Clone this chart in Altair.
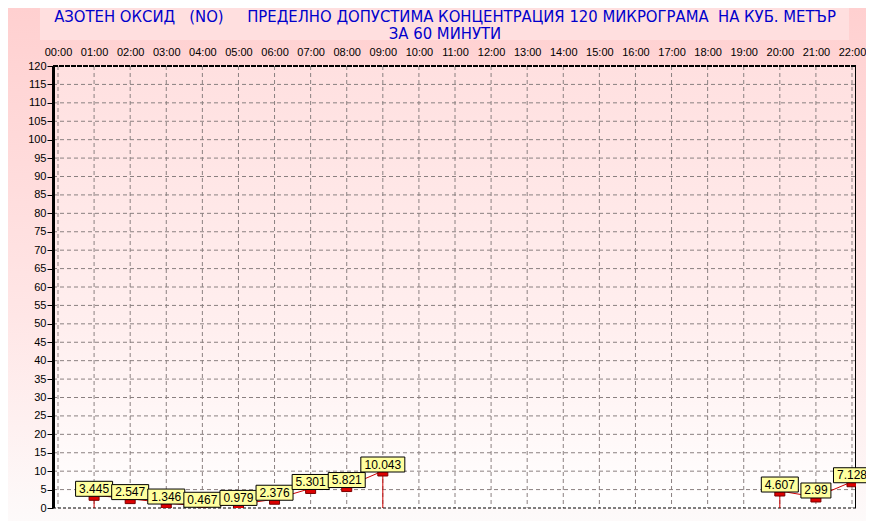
import altair as alt
import pandas as pd

# ---- data ----
hours = [1, 2, 3, 4, 5, 6, 7, 8, 9, 20, 21, 22]
values = [3.445, 2.547, 1.346, 0.467, 0.979, 2.376, 5.301, 5.821, 10.043, 4.607, 2.99, 7.128]
labels = ["3.445", "2.547", "1.346", "0.467", "0.979", "2.376", "5.301", "5.821", "10.043", "4.607", "2.99", "7.128"]
segments = [1, 1, 1, 1, 1, 1, 1, 1, 1, 2, 2, 2]
stem = [1, 0, 0, 0, 0, 0, 0, 0, 1, 1, 0, 0]
x_ticks = list(range(0, 23))
y_ticks = list(range(0, 121, 5))
y_grid = list(range(5, 120, 5))

title1 = "АЗОТЕН ОКСИД\u00a0\u00a0 (NO)\u00a0\u00a0\u00a0\u00a0 ПРЕДЕЛНО ДОПУСТИМА КОНЦЕНТРАЦИЯ 120 МИКРОГРАМА\u00a0 НА КУБ. МЕТЪР"
title2 = "ЗА 60 МИНУТИ"

W, H = 803, 442
SP = 36.09
D0, D1 = -5 / SP, 22 + 4 / SP
PXH = W / (D1 - D0)
PXV = H / 120.0

df = pd.DataFrame({"h": hours, "v": values, "lab": labels, "seg": segments, "stem": stem})
xg = pd.DataFrame({"h": x_ticks})
yg = pd.DataFrame({"v": y_grid})
yt = pd.DataFrame({"v": y_ticks})
one = pd.DataFrame({"a": [0]})

FONT = "Liberation Sans"
TFONT = "DejaVu Sans Condensed, Liberation Sans"
xscale = alt.Scale(domain=[D0, D1], nice=False, zero=False)
yscale = alt.Scale(domain=[0, 120], nice=False, zero=False)
xaxis = alt.Axis(orient="top", values=x_ticks, title=None, grid=False, domain=False, ticks=False,
                 labelExpr="(datum.value < 10 ? '0' : '') + datum.value + ':00'",
                 labelPadding=9, labelFont=FONT, labelFontSize=11, labelColor="black", zindex=1)
yaxis = alt.Axis(values=y_ticks, title=None, grid=False, domain=False, ticks=True, tickSize=6,
                 tickColor="black", labelPadding=1, labelFont=FONT, labelFontSize=11,
                 labelColor="black", zindex=1)
X = alt.X("h:Q", scale=xscale, axis=xaxis)
Y = alt.Y("v:Q", scale=yscale, axis=yaxis)

bg = alt.Chart(one).mark_rect(
    color=alt.LinearGradient(gradient="linear", x1=0, x2=0, y1=0, y2=1,
                             stops=[alt.GradientStop(color="#ffd0d0", offset=0),
                                    alt.GradientStop(color="#ffe6e6", offset=0.6),
                                    alt.GradientStop(color="#fdfafa", offset=1)])
).encode(x=alt.value(-45), x2=alt.value(W + 10), y=alt.value(-58), y2=alt.value(H + 13))

titlebox = alt.Chart(one).mark_rect(color="#ffdfdf").encode(
    x=alt.value(-13), x2=alt.value(796), y=alt.value(-62), y2=alt.value(-26))

plotbg = alt.Chart(one).mark_rect(
    color=alt.LinearGradient(gradient="linear", x1=0, x2=0, y1=0, y2=1,
                             stops=[alt.GradientStop(color="#ffe0e0", offset=0),
                                    alt.GradientStop(color="#ffefef", offset=0.6),
                                    alt.GradientStop(color="#ffffff", offset=1)])
).encode(x=alt.value(0), x2=alt.value(W), y=alt.value(0), y2=alt.value(H))

t1 = alt.Chart(one).mark_text(text=title1, font=TFONT, fontSize=16.5, color="#0000cc",
                              align="center", baseline="alphabetic").encode(
    x=alt.value(392), y=alt.value(-44))
t2 = alt.Chart(one).mark_text(text=title2, font=TFONT, fontSize=16.5, color="#0000cc",
                              align="center", baseline="alphabetic").encode(
    x=alt.value(392), y=alt.value(-27))

vgrid = alt.Chart(xg).mark_rule(color="#8a8080", strokeDash=[4, 3], strokeWidth=1).encode(
    x=X, y=alt.value(0), y2=alt.value(H))
hgrid = alt.Chart(yg).mark_rule(color="#8a8080", strokeDash=[4, 3], strokeWidth=1).encode(
    y=Y, x=alt.value(0), x2=alt.value(W))

# axis ticks / labels carrier
yaxis_layer = alt.Chart(yt).mark_rule(opacity=0).encode(x=alt.value(0), x2=alt.value(1), y=Y)

top_border = alt.Chart(one).mark_rule(color="black", strokeWidth=2, strokeDash=[5, 1]).encode(
    x=alt.value(0), x2=alt.value(W), y=alt.value(0))
bottom_border = alt.Chart(one).mark_rule(color="black", strokeWidth=1, strokeDash=[3, 2]).encode(
    x=alt.value(0), x2=alt.value(W), y=alt.value(H))
left_border = alt.Chart(one).mark_rule(color="black", strokeWidth=3).encode(
    x=alt.value(0.5), y=alt.value(0), y2=alt.value(H))
right_border = alt.Chart(one).mark_rule(color="black", strokeWidth=1).encode(
    x=alt.value(W - 0.5), y=alt.value(0), y2=alt.value(H))

base = alt.Chart(df)
line = base.mark_line(color="#cc0000", strokeWidth=1).encode(x=X, y=Y, detail="seg:N", order="h:Q")
stems = base.transform_filter("datum.stem == 1").transform_calculate(z="0").mark_rule(
    color="#cc0000", strokeWidth=1).encode(x=X, y=Y, y2="z:Q")
markers = base.mark_point(shape="M-1,0H1V1H-1Z", size=100, filled=True, fill="#dd0000",
                          stroke="#7a0000", strokeWidth=1, opacity=1, clip=True).encode(x=X, y=Y)
boxes = base.transform_calculate(
    xl=f"datum.h - (7 * length(datum.lab) + 2) / 2 / {PXH}",
    xr=f"datum.h + (7 * length(datum.lab) + 2) / 2 / {PXH}",
    yb=f"datum.v - 1 / {PXV}",
    ytp=f"datum.v + 14 / {PXV}",
).mark_rect(fill="#ffff9e", stroke="black", strokeWidth=1).encode(
    x=alt.X("xl:Q", scale=xscale, axis=xaxis), x2="xr:Q",
    y=alt.Y("yb:Q", scale=yscale, axis=yaxis), y2="ytp:Q")
texts = base.mark_text(font=FONT, fontSize=12, color="black", align="center", baseline="middle",
                       dy=-6.5).encode(x=X, y=Y, text="lab:N")

chart = alt.layer(
    bg, titlebox, plotbg, t1, t2, vgrid, hgrid, yaxis_layer,
    top_border, bottom_border, right_border, left_border,
    line, stems, markers, boxes, texts
).properties(
    width=W, height=H,
    autosize=alt.AutoSizeParams(type="none"),
    padding={"left": 45, "top": 58, "right": 10, "bottom": 13},
).configure_view(stroke=None)

chart.save("out.html", embed_options={"renderer": "svg", "actions": False})
